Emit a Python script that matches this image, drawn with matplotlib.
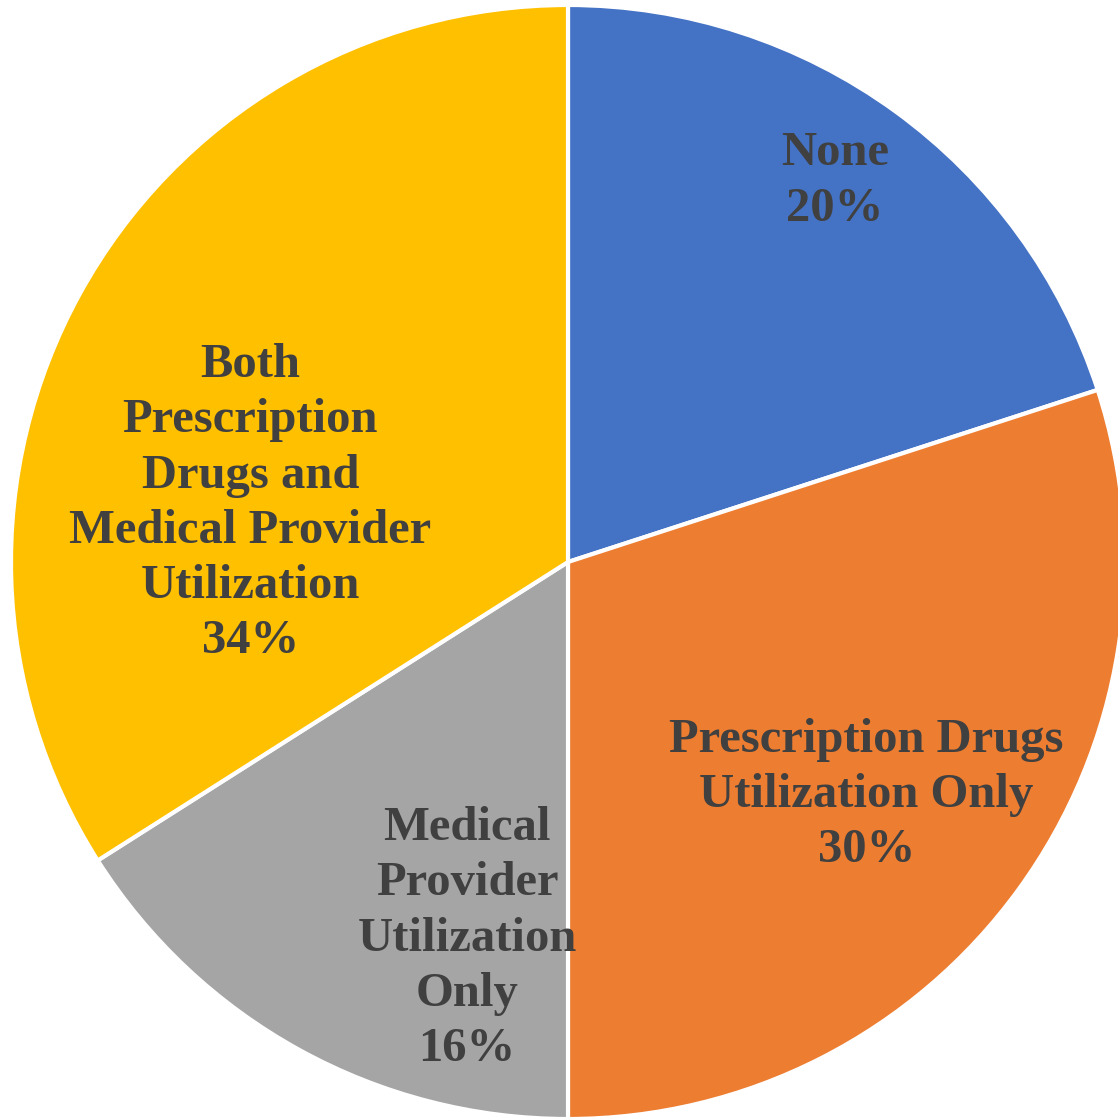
import matplotlib.pyplot as plt
import numpy as np

# data
categories = ["None", "Prescription Drugs\nUtilization Only", "Medical\nProvider\nUtilization\nOnly",
              "Both\nPrescription\nDrugs and\nMedical Provider\nUtilization"]
shares = [20, 30, 16, 34]
colors = ["#4472C4", "#ED7D31", "#A5A5A5", "#FFC000"]

# label placement (angle in degrees, radius as fraction of pie radius)
label_pos = [(55, 0.835), (-38, 0.68), (-105, 0.70), (169.5, 0.58)]

W = H = 1118
cx, cy, r = 568, 562, 557

fig = plt.figure(figsize=(W / 100, H / 100), dpi=100)
ax = fig.add_axes([0, 0, 1, 1])
ax.pie(shares, colors=colors, startangle=90, counterclock=False,
       wedgeprops=dict(edgecolor="white", linewidth=3), radius=1)
ax.set_xlim(-cx / r, (W - cx) / r)
ax.set_ylim(-(H - cy) / r, cy / r)
ax.set_aspect("equal")
ax.axis("off")

for cat, val, (ang, rad) in zip(categories, shares, label_pos):
    a = np.deg2rad(ang)
    ax.text(rad * np.cos(a), rad * np.sin(a), f"{cat}\n{val}%",
            ha="center", va="center", fontsize=35, fontweight="bold",
            family="Liberation Serif", color="#404040", linespacing=1.33)

fig.savefig("out.png", dpi=100)
